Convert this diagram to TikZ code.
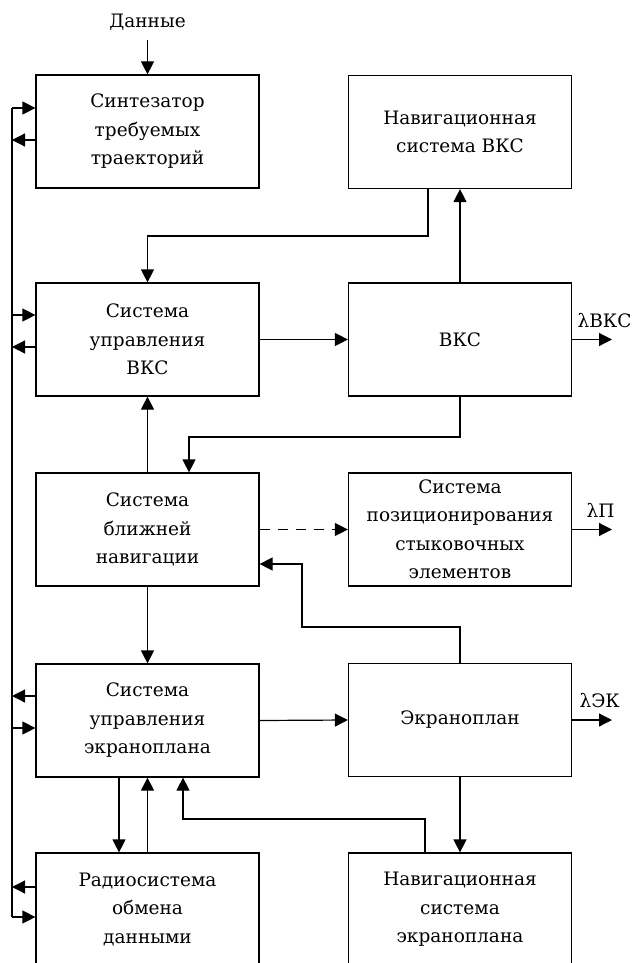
\documentclass[tikz,border=0pt]{standalone}
\usepackage{fontspec}
\setmainfont{DejaVu Serif}
\usetikzlibrary{arrows.meta}
\begin{document}
\begin{tikzpicture}[x=1pt,y=-1pt,
  line width=1.2pt,
  >={Triangle[length=13pt,width=13pt]},
  block/.style={draw, minimum width=223pt, minimum height=113pt, align=center,
    font=\fontsize{18.5}{28.5}\selectfont, inner sep=0pt},
  lbl/.style={font=\fontsize{18.5}{20}\selectfont, inner sep=0pt, anchor=base west}]
\useasboundingbox (0,0) rectangle (636,963);
\clip (0,0) rectangle (636,963);

% left column
\node[block] (synth) at (147.5,131.5) {Синтезатор\\требуемых\\траекторий};
\node[block] (cvks)  at (147.5,339.5) {Система\\управления\\ВКС};
\node[block] (near)  at (147.5,529.5) {Система\\ближней\\навигации};
\node[block] (cekr)  at (147.5,720.5) {Система\\управления\\экраноплана};
\node[block] (radio) at (147.5,909.5) {Радиосистема\\обмена\\данными};

% right column
\node[block] (nvks)  at (460,132)   {Навигационная\\система ВКС};
\node[block] (vks)   at (460,339.5) {ВКС};
\node[block] (pos)   at (460,529.5) {Система\\позиционирования\\стыковочных\\элементов};
\node[block] (ekr)   at (460,720)   {Экраноплан};
\node[block] (nekr)  at (460,909.5) {Навигационная\\система\\экраноплана};

% input data
\node[font=\fontsize{18.5}{20}\selectfont, anchor=base] (data) at (147.5,28) {Данные};
\coordinate (dtop) at (147.5,40);
\draw[->] (dtop) -- (synth.north);

% data bus on the left
\coordinate (busT) at (12,108);
\coordinate (busB) at (12,917);
\draw (busT) -- (busB);
\draw[->] (busT) -- (synth.west |- busT);
\draw[->] (synth.west |- 0,140) -- (12,140);
\draw[->] (12,315) -- (cvks.west |- 0,315);
\draw[->] (cvks.west |- 0,347) -- (12,347);
\draw[->] (cekr.west |- 0,696) -- (12,696);
\draw[->] (12,728) -- (cekr.west |- 0,728);
\draw[->] (radio.west |- 0,887) -- (12,887);
\draw[->] (busB) -- (radio.west |- busB);

% VKS loop
\draw[->] (nvks.south -| 428,0) |- (cvks.north |- 0,236) -- (cvks.north);
\draw[->] (vks.north) -- (nvks.south);
\draw[->] (cvks.east) -- (vks.west);
\draw[->] (vks.east) -- (612,339.5);
\node[lbl] (lvks) at (577,327) {λВКС};
\draw[->] (vks.south) |- (189,437) -- (near.north -| 189,0);
\draw[->] (near.north) -- (cvks.south);

% close-range navigation
\draw[->, dash pattern=on 10pt off 8pt] (near.east) -- (pos.west);
\draw[->] (pos.east) -- (612,529.5);
\node[lbl] (lp) at (586,517) {λП};

% ekranoplan loop
\draw[->] (near.south) -- (cekr.north);
\draw[->] (cekr.east) -- (ekr.west);
\draw[->] (ekr.east) -- (612,720);
\node[lbl] (lek) at (579,707) {λЭК};
\draw[->] (ekr.north) |- (302,627) |- (near.east |- 0,564);
\draw[->] (ekr.south) -- (nekr.north);
\draw[->] (nekr.north -| 425,0) |- (183,819) -- (cekr.south -| 183,0);
\draw[->] (cekr.south -| 119,0) -- (radio.north -| 119,0);
\draw[->] (radio.north) -- (cekr.south);
\end{tikzpicture}
\end{document}
